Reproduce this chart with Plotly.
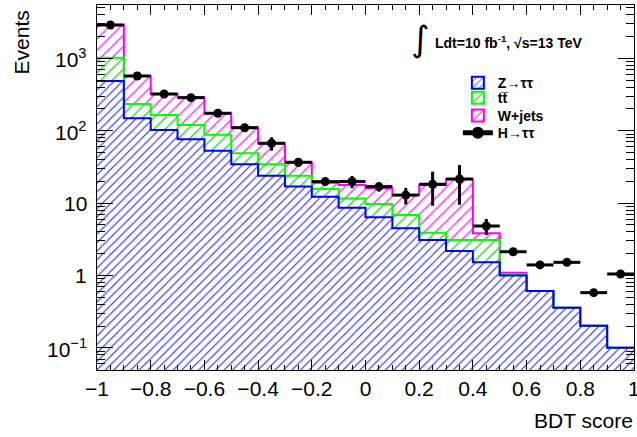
import numpy as np
import plotly.graph_objects as go

# ---- data ----
bin_edges = [-1.0, -0.9, -0.8, -0.7, -0.6, -0.5, -0.4, -0.3, -0.2, -0.1, 0.0,
             0.1, 0.2, 0.3, 0.4, 0.5, 0.6, 0.7, 0.8, 0.9, 1.0]
z_tautau = [486, 148, 102, 76, 53, 34.4, 23.9, 16.9, 12.25, 8.6,
            6.4, 4.49, 3.09, 2.18, 1.52, 1.0, 0.61, 0.359, 0.203, 0.1007]
ttbar = [533, 86, 63, 44, 35, 14.3, 10.5, 7.0, 3.45, 3.0,
         3.3, 2.36, 0.81, 0.91, 1.57, 0.04, 0, 0, 0, 0]
wjets = [1865, 336, 156, 169, 86, 62.3, 32.6, 13.1, 3.4, 6.2,
         6.3, 6.05, 13.9, 18.4, 0.74, 0.05, 0, 0, 0, 0]
h_tautau = [2884, 570, 321, 286, 174, 110, 67, 36.6, 19.8, 19.9,
            16.9, 12.9, 18.2, 21.5, 4.83, 2.13, 1.40, 1.52, 0.58, 1.05]
h_err = [60, 25, 18, 18, 14, 11, 14, 5, 2, 3.8,
         2.5, 3.3, 9, 12, 1.2, 0.1, 0.08, 0.08, 0.05, 0.08]

y_tickvals = [0.1, 1, 10, 100, 1000]
y_ticktext = ["10<sup>\u22121</sup>", "1", "10", "10<sup>2</sup>", "10<sup>3</sup>"]

edges = np.array(bin_edges)
centers = 0.5 * (edges[:-1] + edges[1:])
widths = np.diff(edges)
z = np.array(z_tautau, float)
zt = z + np.array(ttbar, float)
tot = zt + np.array(wjets, float)

FONT = "Liberation Sans, Arial, sans-serif"
BLUE, GREEN, MAG = "#0000ff", "#00ff00", "#ff00ff"

fig = go.Figure()

# hatched stacked fills
for name, vals, col, sz in [("Z", z_tautau, "#2020ff", 6),
                            ("tt", ttbar, "#20e020", 8),
                            ("W", wjets, "#ff30ff", 8)]:
    fig.add_trace(go.Bar(x=centers, y=vals, width=widths, showlegend=False,
                         marker=dict(color=col, line=dict(width=0),
                                     pattern=dict(shape="/", size=sz, solidity=0.18,
                                                  fillmode="replace")),
                         hoverinfo="skip"))

# step outlines (total first, so lower ones draw on top)
def step(vals):
    return np.append(vals, vals[-1])

for vals, col in [(tot, MAG), (zt, GREEN), (z, BLUE)]:
    fig.add_trace(go.Scatter(x=edges, y=step(vals), mode="lines", line_shape="hv",
                             line=dict(color=col, width=2), showlegend=False,
                             hoverinfo="skip"))

# legend entries: one legend per row so rows sit as close as in the reference
legend_items = [("Z\u2192\u03c4\u03c4", BLUE, "#2020ff", 6, "legend"),
                ("tt\u0305", GREEN, "#20e020", 8, "legend2"),
                ("W+jets", MAG, "#ff30ff", 8, "legend3")]
for label, lc, fc, sz, lg in legend_items:
    fig.add_trace(go.Bar(x=[None], y=[None], name=label, legend=lg,
                         marker=dict(color=fc, line=dict(color=lc, width=2),
                                     pattern=dict(shape="/", size=sz, solidity=0.18,
                                                  fillmode="replace"))))
fig.add_trace(go.Scatter(x=[None], y=[None], name="H\u2192\u03c4\u03c4",
                         mode="lines+markers", legend="legend4",
                         line=dict(color="black", width=3),
                         marker=dict(color="black", size=9)))

# signal points
fig.add_trace(go.Scatter(x=centers, y=h_tautau, mode="markers", showlegend=False,
                         marker=dict(color="black", size=9),
                         error_x=dict(type="data", array=widths / 2, thickness=3,
                                      width=0, color="black"),
                         error_y=dict(type="data", array=h_err, thickness=3,
                                      width=0, color="black")))

def leg(yc):
    return dict(x=0.672, y=yc, xanchor="left", yanchor="middle",
                bgcolor="rgba(0,0,0,0)", borderwidth=0,
                font=dict(family=FONT, size=14, weight="bold"),
                itemsizing="constant")

fig.update_layout(
    width=637, height=437,
    margin=dict(l=97, r=3, t=5, b=67, autoexpand=False),
    paper_bgcolor="white", plot_bgcolor="white",
    barmode="stack", bargap=0,
    font=dict(family=FONT, color="black", size=21),
    legend=leg(0.786), legend2=leg(0.745), legend3=leg(0.696), legend4=leg(0.649),
)
fig.update_xaxes(range=[-1, 1], dtick=0.2, tick0=-1, automargin=False,
                 showline=True, linecolor="black", linewidth=1, mirror="ticks",
                 ticks="inside", ticklen=10, tickcolor="black", showgrid=False,
                 zeroline=False, tickfont=dict(size=21),
                 minor=dict(dtick=0.05, tick0=-1, ticks="inside", ticklen=5,
                            tickcolor="black", showgrid=False))
minor_vals = [m * 10.0 ** d for d in range(-2, 4) for m in range(2, 10)]
fig.update_yaxes(type="log", range=[-1.305, 3.736], automargin=False,
                 tickmode="array", tickvals=y_tickvals, showticklabels=False,
                 showline=True, linecolor="black", linewidth=1, mirror="ticks",
                 ticks="inside", ticklen=16, tickcolor="black", showgrid=False,
                 zeroline=False,
                 minor=dict(tickmode="array", tickvals=minor_vals, ticks="inside",
                            ticklen=8, tickcolor="black", showgrid=False))

# y tick labels placed at the tick values
for v, t in zip(y_tickvals, y_ticktext):
    fig.add_annotation(text=t, xref="paper", yref="y", x=-0.015, y=np.log10(v),
                       xanchor="right", yanchor="middle", showarrow=False,
                       font=dict(size=21))

# last x tick label (at the right edge, partly cut off as in the reference)
fig.add_annotation(text="1", xref="x", yref="paper", x=bin_edges[-1], y=-0.052,
                   xanchor="center", yanchor="middle", showarrow=False,
                   font=dict(size=21))

fig.add_annotation(text="Events", textangle=-90, xref="paper", yref="paper",
                   x=-0.14, y=0.897, xanchor="center", yanchor="middle",
                   showarrow=False, font=dict(size=21))
fig.add_annotation(text="BDT score", xref="paper", yref="paper",
                   x=1.002, y=-0.137, xanchor="right", yanchor="middle",
                   showarrow=False, font=dict(size=21))
fig.add_annotation(text="\u222b", xref="paper", yref="paper",
                   x=0.601, y=0.906, xanchor="center", yanchor="middle",
                   showarrow=False, font=dict(size=35, family="DejaVu Sans"))
fig.add_annotation(text="<b>Ldt=10 fb<sup>-1</sup>, \u221as=13 TeV</b>",
                   xref="paper", yref="paper",
                   x=0.626, y=0.899, xanchor="left", yanchor="middle",
                   showarrow=False, font=dict(size=14))

fig.write_html("out.html", config={"displayModeBar": False},
               post_script="document.body.style.margin='0';")
